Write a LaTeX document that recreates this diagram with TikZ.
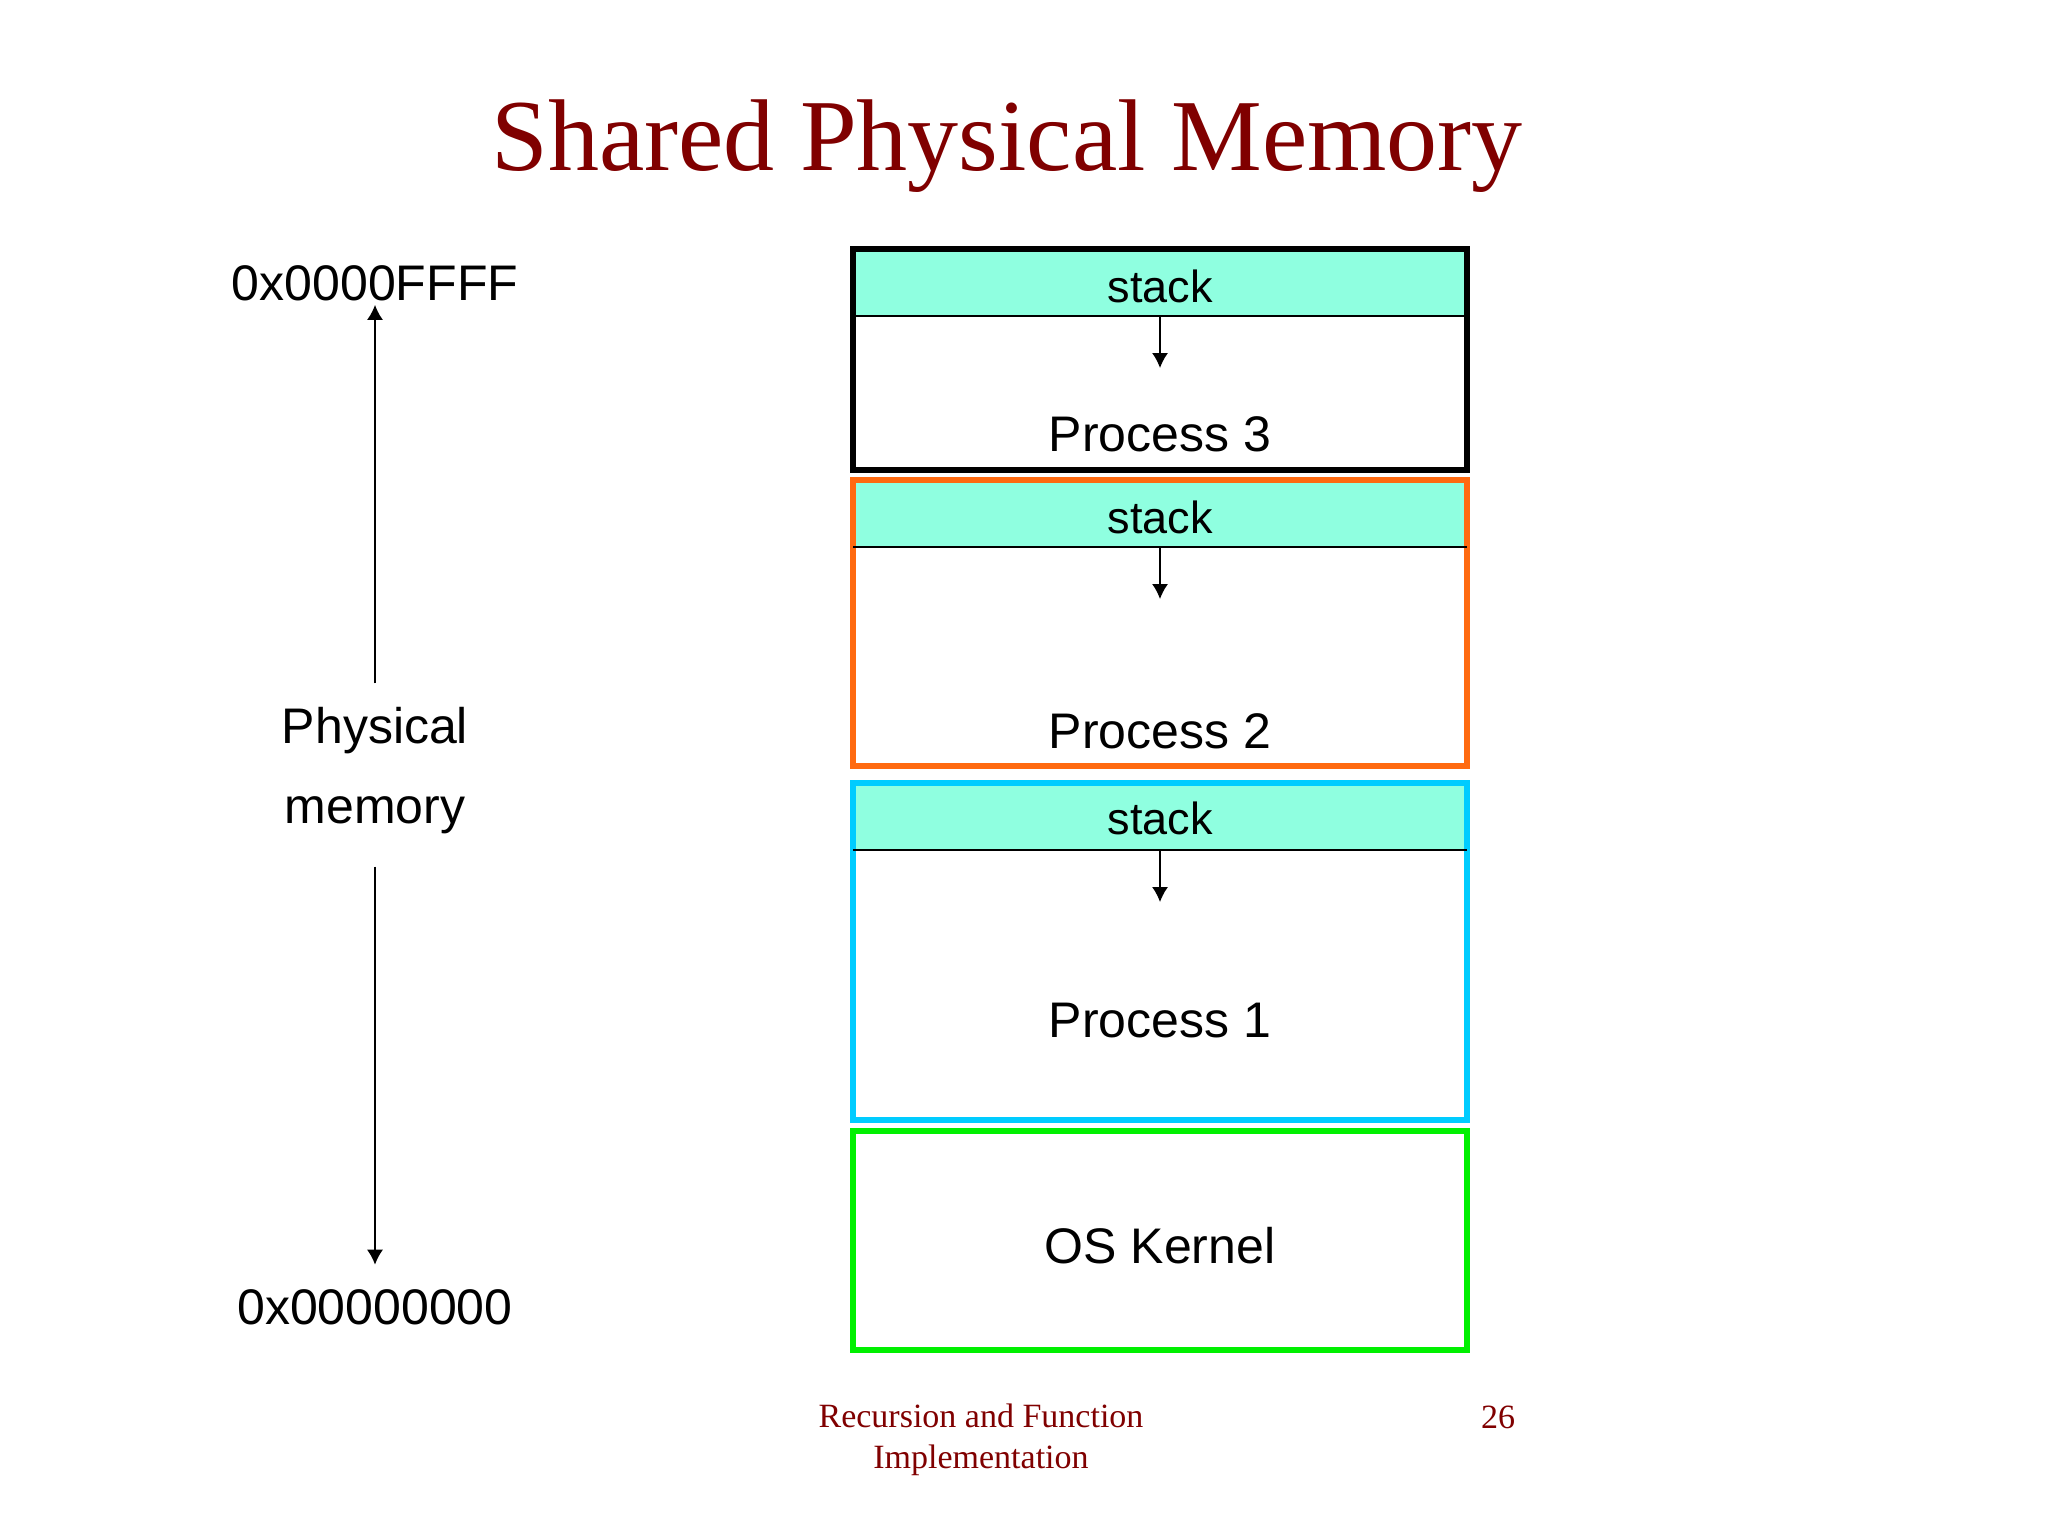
\documentclass[tikz,border=0pt]{standalone}
\usepackage{fontspec}
\setmainfont{Liberation Serif}
\setsansfont{Liberation Sans}
\usetikzlibrary{arrows.meta,backgrounds}
\definecolor{titlered}{RGB}{128,0,0}
\definecolor{stackfill}{RGB}{143,255,224}
\definecolor{procorange}{RGB}{255,106,16}
\definecolor{proccyan}{RGB}{0,204,255}
\definecolor{kernelgreen}{RGB}{0,240,0}
\tikzset{
	region/.style    = {draw, rectangle, line width=3pt, minimum width=307pt, inner sep=0pt, outer sep=0pt},
	stackband/.style = {fill=stackfill, rectangle, minimum width=307pt, minimum height=33.5pt, inner sep=0pt, outer sep=0pt, anchor=north},
	memtext/.style   = {font=\sffamily\fontsize{25}{40}\selectfont, anchor=base, inner sep=2pt},
	stacktext/.style = {font=\sffamily\fontsize{22.5}{27}\selectfont, anchor=base},
	slidetext/.style = {text=titlered, inner sep=0pt},
	hidden/.style    = {coordinate},
}

\begin{document}
\begin{tikzpicture}[x=0.5pt, y=-0.5pt, >={Latex[length=7.5pt,width=8pt]}]
		\useasboundingbox (0,0) rectangle (2048,1536);

		% Draw the title
		\node[slidetext, font=\fontsize{51}{60}\selectfont, anchor=base] (title) at (1007,170) {Shared Physical Memory};

		% Draw the memory regions
		\draw
			node[region, minimum height=110.5pt] (proc3)  at (1160,359.5)  {}
			node[region, minimum height=143pt  , draw=procorange ] (proc2)  at (1160,623)    {}
			node[region, minimum height=168.5pt, draw=proccyan   ] (proc1)  at (1160,951.5)  {}
			node[region, minimum height=109.5pt, draw=kernelgreen] (kernel) at (1160,1240.5) {};

		% Draw the stack bands behind the borders
		\begin{scope}[on background layer]
			\node[stackband] (stack3) at (proc3.north) {};
			\node[stackband] (stack2) at (proc2.north) {};
			\node[stackband] (stack1) at (proc1.north) {};
		\end{scope}
		\draw[line width=0.7pt] (stack3.south west) -- (stack3.south east);
		\draw[line width=0.7pt] (stack2.south west) -- (stack2.south east);
		\draw[line width=0.7pt] (stack1.south west) -- (stack1.south east);

		% Region texts
		\node[stacktext] at (1160,302)  {stack};
		\node[stacktext] at (1160,533)  {stack};
		\node[stacktext] at (1160,834)  {stack};
		\node[memtext] (p3text) at (1160,451)  {Process 3};
		\node[memtext] (p2text) at (1160,748)  {Process 2};
		\node[memtext] (p1text) at (1160,1037) {Process 1};
		\node[memtext] (ostext) at (1160,1263) {OS Kernel};

		% Stack growth arrows
		\path (stack3.south) ++(0,52) node[hidden] (grow3) {};
		\path (stack2.south) ++(0,52) node[hidden] (grow2) {};
		\path (stack1.south) ++(0,52) node[hidden] (grow1) {};
		\draw[->, line width=0.7pt] (stack3.south) -- (grow3);
		\draw[->, line width=0.7pt] (stack2.south) -- (grow2);
		\draw[->, line width=0.7pt] (stack1.south) -- (grow1);

		% Address range on the left
		\node[memtext] (topaddr) at (375,300)  {0x0000FFFF};
		\node[memtext] (botaddr) at (375,1324) {0x00000000};
		\node[memtext, anchor=center, align=center, inner sep=4pt] (physmem) at (375,771) {Physical\\memory};
		\draw[->, line width=0.8pt, shorten <=8pt] (physmem.north) -- (topaddr.south);
		\draw[->, line width=0.8pt, shorten <=12pt, shorten >=10pt] (physmem.south) -- (botaddr.north);

		% Footer
		\node[slidetext, font=\fontsize{17}{20.5}\selectfont, align=center] (footer) at (981,1440) {Recursion and Function\\Implementation};
		\node[slidetext, font=\fontsize{17}{20.5}\selectfont, anchor=base] (pagenum) at (1498,1428) {26};
	\end{tikzpicture}
\end{document}
